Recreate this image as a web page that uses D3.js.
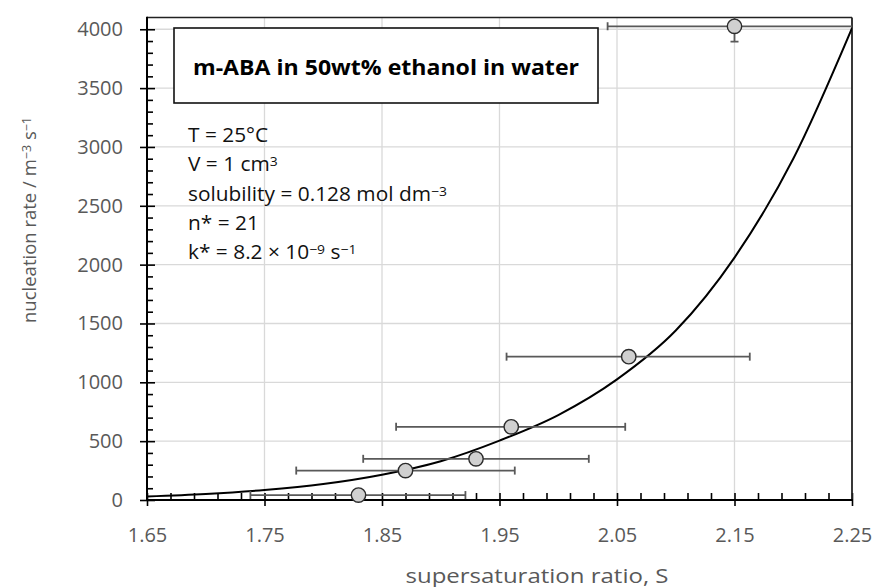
<!DOCTYPE html>
<html><head><meta charset="utf-8">
<script src="https://cdn.jsdelivr.net/npm/d3@7"></script>
<style>
html,body{margin:0;padding:0;background:#fff;}
svg{display:block;}
</style></head>
<body>
<svg id="chart" width="874" height="587"></svg>
<script>
// ---- data ----
const pointS   = [1.83, 1.87, 1.93, 1.96, 2.06, 2.15];
const pointJ   = [42, 250, 350, 622, 1218, 4025];
const sErrLow  = [1.738, 1.777, 1.834, 1.862, 1.956, 2.042];
const sErrHigh = [1.921, 1.963, 2.026, 2.057, 2.163, 2.258];
const jErr     = [0, 0, 0, 0, 0, 130];

const curveS = [1.65, 1.70, 1.75, 1.80, 1.85, 1.90, 1.95, 2.00, 2.05, 2.10, 2.15, 2.20, 2.25];
const curveJ = [30, 51, 85, 136, 215, 330, 505, 722, 1025, 1440, 2060, 2900, 4010];

const xTickValues = [1.65, 1.75, 1.85, 1.95, 2.05, 2.15, 2.25];
const yTickValues = [0, 500, 1000, 1500, 2000, 2500, 3000, 3500, 4000];
const xDomain = [1.65, 2.25];
const yDomain = [0, 4100];

const titleText = "m-ABA in 50wt% ethanol in water";
const xTitle = "supersaturation ratio, S";

// ---- layout ----
const svg = d3.select("#chart");
const L = 147, R = 852, T = 17.5, B = 500;
const x = d3.scaleLinear().domain(xDomain).range([L, R]);
const y = d3.scaleLinear().domain(yDomain).range([B, T]);
const grey = "#595959";
const FONT = "'Open Sans', 'Noto Sans', sans-serif";

svg.append("defs").append("clipPath").attr("id", "plotclip")
  .append("rect").attr("x", L).attr("y", T).attr("width", R - L).attr("height", B - T);

// grid
const grid = svg.append("g");
grid.selectAll(".gx").data(xTickValues.slice(1, -1)).join("line")
  .attr("x1", d => x(d)).attr("x2", d => x(d)).attr("y1", T).attr("y2", B)
  .attr("stroke", "#d9d9d9").attr("stroke-width", 1.3);
grid.selectAll(".gy").data(yTickValues.slice(1)).join("line")
  .attr("x1", L).attr("x2", R).attr("y1", d => y(d)).attr("y2", d => y(d))
  .attr("stroke", "#d9d9d9").attr("stroke-width", 1.3);

// minor ticks values
const xMinor = d3.range(0, 31).map(i => +(xDomain[0] + i * 0.02).toFixed(2));
const yMinor = d3.range(0, 41).map(i => i * 100);

// y axis
const yOut = svg.append("g").attr("transform", `translate(${L},0)`)
  .call(d3.axisLeft(y).tickValues(yTickValues).tickSize(7).tickSizeOuter(0).tickPadding(17).tickFormat(d3.format("d")));
const yIn = svg.append("g").attr("transform", `translate(${L},0)`)
  .call(d3.axisLeft(y).tickValues(yMinor).tickSize(-6).tickSizeOuter(0).tickFormat(""));
// x axis
const xOut = svg.append("g").attr("transform", `translate(0,${B})`)
  .call(d3.axisBottom(x).tickValues(xTickValues).tickSize(6).tickSizeOuter(0).tickPadding(20).tickFormat(d3.format(".2f")));
const xIn = svg.append("g").attr("transform", `translate(0,${B})`)
  .call(d3.axisBottom(x).tickValues(xMinor).tickSize(-7).tickSizeOuter(0).tickFormat(""));

[yOut, yIn, xOut, xIn].forEach(g => {
  g.select(".domain").remove();
  g.selectAll(".tick line").attr("stroke", "#000").attr("stroke-width", 1.6);
  g.selectAll("text").attr("fill", grey).style("font-family", FONT).style("font-size", "20px");
});
yOut.selectAll(".tick line").attr("x2", -7);
yIn.selectAll(".tick").filter(d => d % 500 === 0).select("line").attr("x2", 8);
xIn.selectAll(".tick").filter(d => Math.round(d * 100) % 10 === 5).select("line").attr("y2", -7);
xOut.selectAll("text").attr("dy", "0.35em").attr("y", 35);

// frame
svg.append("line").attr("x1", L).attr("x2", R).attr("y1", T).attr("y2", T).attr("stroke", "#222").attr("stroke-width", 1.6);
svg.append("line").attr("x1", R).attr("x2", R).attr("y1", T).attr("y2", B).attr("stroke", "#222").attr("stroke-width", 1.8);
svg.append("line").attr("x1", L).attr("x2", L).attr("y1", T - 0.8).attr("y2", B + 1).attr("stroke", "#000").attr("stroke-width", 2);
svg.append("line").attr("x1", L - 1).attr("x2", R + 0.9).attr("y1", B).attr("y2", B).attr("stroke", "#000").attr("stroke-width", 2);

// model curve
const curveData = curveS.map((s, i) => [s, curveJ[i]]);
svg.append("path").datum(curveData)
  .attr("clip-path", "url(#plotclip)")
  .attr("fill", "none").attr("stroke", "#000").attr("stroke-width", 2)
  .attr("d", d3.line().x(d => x(d[0])).y(d => y(d[1])).curve(d3.curveMonotoneX));

// error bars
const pts = pointS.map((s, i) => ({s, j: pointJ[i], lo: sErrLow[i], hi: sErrHigh[i], je: jErr[i]}));
const eb = svg.append("g").attr("clip-path", "url(#plotclip)")
  .attr("stroke", grey).attr("stroke-width", 1.8).attr("fill", "none");
pts.forEach(p => {
  eb.append("line").attr("x1", x(p.lo)).attr("x2", x(p.hi)).attr("y1", y(p.j)).attr("y2", y(p.j));
  [p.lo, p.hi].forEach(v => {
    eb.append("line").attr("x1", x(v)).attr("x2", x(v)).attr("y1", y(p.j) - 4).attr("y2", y(p.j) + 4);
  });
  if (p.je > 0) {
    eb.append("line").attr("x1", x(p.s)).attr("x2", x(p.s)).attr("y1", y(p.j - p.je)).attr("y2", y(p.j + p.je));
    eb.append("line").attr("x1", x(p.s) - 4).attr("x2", x(p.s) + 4).attr("y1", y(p.j - p.je)).attr("y2", y(p.j - p.je));
  }
});

// markers
svg.append("g").selectAll("circle").data(pts).join("circle")
  .attr("cx", d => x(d.s)).attr("cy", d => y(d.j)).attr("r", 7.2)
  .attr("fill", "#d0d0d0").attr("stroke", "#2b2b2b").attr("stroke-width", 1.4);

// title box
svg.append("rect").attr("x", 174).attr("y", 28).attr("width", 424).attr("height", 75)
  .attr("fill", "#fff").attr("stroke", "#111").attr("stroke-width", 1.6);
svg.append("g").attr("transform", "translate(193,75) scale(1.1,1)")
  .append("text").attr("x", 0).attr("y", 0).text(titleText)
  .style("font-family", FONT).style("font-weight", "bold").style("font-size", "21px").attr("fill", "#000");

// annotation lines
const annLines = [
  [["T = 25°C", 0]],
  [["V = 1 cm", 0], ["3", 1]],
  [["solubility = 0.128 mol dm", 0], ["−3", 1]],
  [["n* = 21", 0]],
  [["k* = 8.2 × 10", 0], ["−9", 1], [" s", 0], ["−1", 1]]
];
annLines.forEach((parts, i) => {
  const t = svg.append("g").attr("transform", `translate(188,${142 + i * 29.3}) scale(1.07,1)`)
    .append("text").attr("x", 0).attr("y", 0)
    .style("font-family", FONT).style("font-size", "19.5px").attr("fill", "#111");
  parts.forEach(([str, sup]) => {
    t.append("tspan").text(str)
      .attr("baseline-shift", sup ? "38%" : null)
      .style("font-size", sup ? "13px" : null);
  });
});

// axis titles
svg.append("g").attr("transform", "translate(537,583) scale(1.2,1)")
  .append("text").attr("x", 0).attr("y", 0).attr("text-anchor", "middle")
  .text(xTitle).attr("fill", grey).style("font-family", FONT).style("font-size", "20px");
const yt = svg.append("text").attr("transform", "translate(36,220) rotate(-90)").attr("text-anchor", "middle")
  .attr("fill", grey).style("font-family", FONT).style("font-size", "18.5px");
[["nucleation rate / m", 0], ["−3", 1], [" s", 0], ["−1", 1]].forEach(([str, sup]) => {
  yt.append("tspan").text(str).attr("baseline-shift", sup ? "38%" : null).style("font-size", sup ? "12.5px" : null);
});
</script>
</body></html>
